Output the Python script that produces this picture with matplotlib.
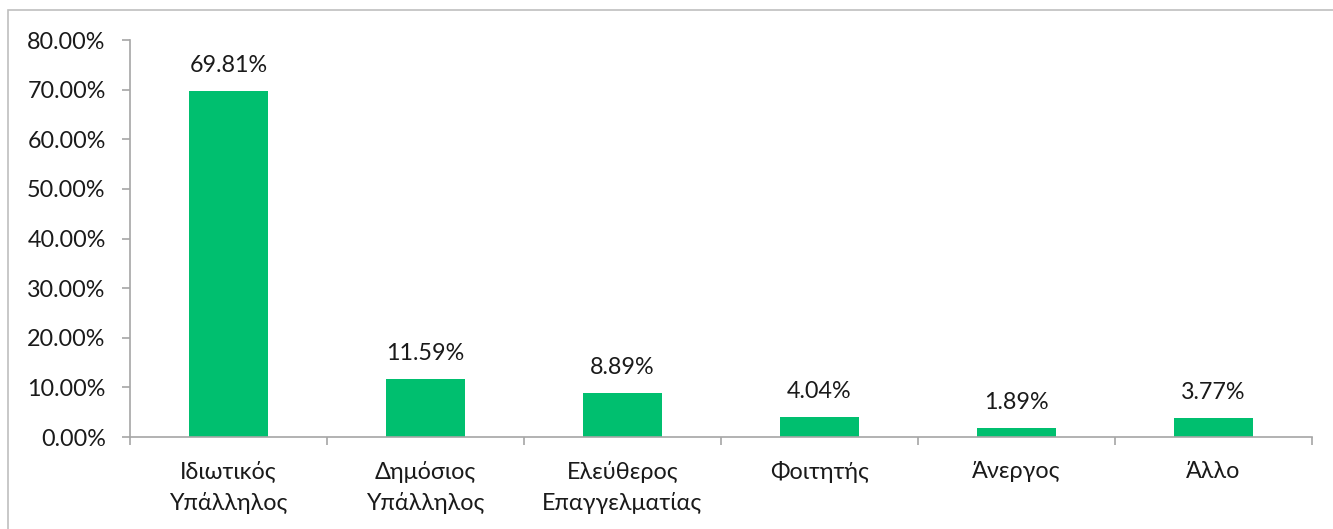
import matplotlib
matplotlib.use("Agg")
import matplotlib.pyplot as plt
from matplotlib.patches import Rectangle
from matplotlib.ticker import FixedLocator, FuncFormatter

categories = ["Ιδιωτικός\nΥπάλληλος", "Δημόσιος\nΥπάλληλος", "Ελεύθερος\nΕπαγγελματίας",
              "Φοιτητής", "Άνεργος", "Άλλο"]
values = [69.81, 11.59, 8.89, 4.04, 1.89, 3.77]
y_ticks = [0, 10, 20, 30, 40, 50, 60, 70, 80]

plt.rcParams['font.family'] = ['Lato', 'DejaVu Sans']

bar_color = "#00BF6F"
axis_color = "#A6A6A6"
text_color = "#1a1a1a"
fs = 16.8

fig = plt.figure(figsize=(13.33, 5.29), dpi=100)
fig.patch.set_facecolor("white")
fig.patches.append(Rectangle((8 / 1333, -0.01), 1.0, 1 - 10 / 529 + 0.01,
                             transform=fig.transFigure, fill=False,
                             edgecolor="#BFBFBF", linewidth=1.2))

ax = fig.add_axes([130 / 1333, 1 - 437 / 529, (1312 - 130) / 1333, (437 - 40) / 529])
x = list(range(len(categories)))
bars = ax.bar(x, values, width=0.4, color=bar_color, zorder=2)

for xi, v in zip(x, values):
    ax.annotate(f"{v:.2f}%", (xi, v), xytext=(0, 13.7), textcoords="offset points",
                ha="center", va="baseline", fontsize=fs, color=text_color)

ax.set_xlim(-0.5, len(categories) - 0.5)
ax.set_ylim(0, 80)
ax.yaxis.set_major_locator(FixedLocator(y_ticks))
ax.yaxis.set_major_formatter(FuncFormatter(lambda v, p: f"{v:.2f}%"))

ax.set_xticks(x)
ax.set_xticklabels(categories, fontsize=fs, color=text_color, linespacing=1.5)
ax.set_xticks([i - 0.5 for i in range(len(categories) + 1)], minor=True)
ax.tick_params(axis="x", which="major", length=0, pad=17)
ax.tick_params(axis="x", which="minor", length=5.5, color=axis_color, width=1.2)
ax.tick_params(axis="y", length=5.5, color=axis_color, width=1.2, labelsize=fs,
               labelcolor=text_color, pad=12)

for side in ("top", "right"):
    ax.spines[side].set_visible(False)
for side in ("left", "bottom"):
    ax.spines[side].set_color(axis_color)
    ax.spines[side].set_linewidth(1.2)

fig.savefig("out.png", dpi=100)
